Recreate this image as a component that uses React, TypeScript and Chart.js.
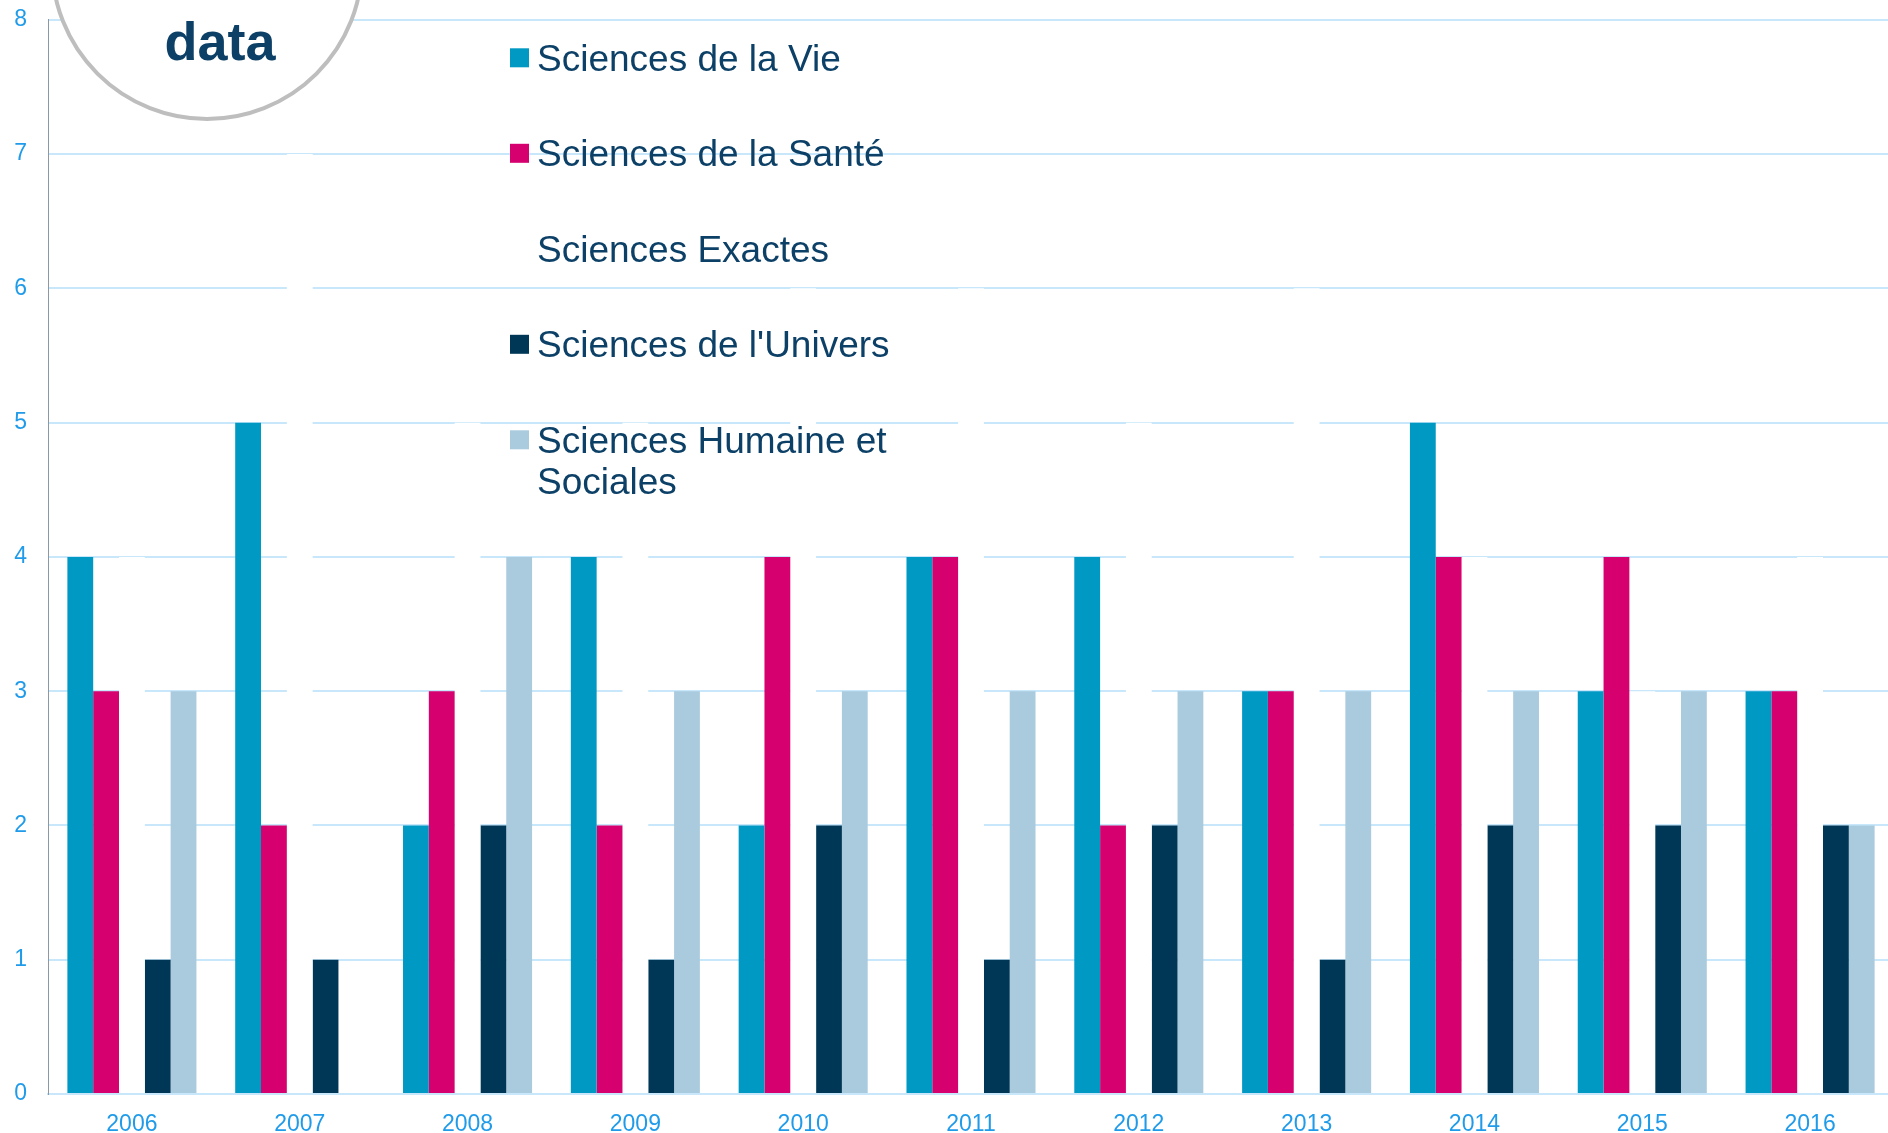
import React, { useEffect, useRef } from "react";
import { Chart, registerables } from "chart.js";

Chart.register(...registerables);

const years = ["2006", "2007", "2008", "2009", "2010", "2011", "2012", "2013", "2014", "2015", "2016"];
const seriesLabels = [
  "Sciences de la Vie",
  "Sciences de la Santé",
  "Sciences Exactes",
  "Sciences de l'Univers",
  "Sciences Humaine et Sociales",
];
const vie = [4, 5, 2, 4, 2, 4, 4, 3, 5, 3, 3];
const sante = [3, 2, 3, 2, 4, 4, 2, 3, 4, 4, 3];
const exactes = [4, 7, 5, 5, 6, 6, 5, 6, 4, 3, 4];
const univers = [1, 1, 2, 1, 2, 1, 2, 1, 2, 2, 2];
const shs = [3, 0, 4, 3, 3, 3, 3, 3, 3, 3, 2];
const seriesColors = ["#0099C4", "#D6006E", "#FFFFFF", "#003756", "#AACBDE"];
const yMin = 0;
const yMax = 8;
const yStep = 1;
const logoText = "data";

const NAVY = "#0C4067";
const TICK = "#1F9BEA";
const GRID = "#C8E7FA";
const FONT = '"Liberation Sans", Arial, Helvetica, sans-serif';
const SHIFT = 15; // canvas is shifted up by this many pixels

function wrapText(ctx: CanvasRenderingContext2D, text: string, maxWidth: number): string[] {
  const words = text.split(" ");
  const lines: string[] = [];
  let cur = "";
  for (const w of words) {
    const test = cur ? cur + " " + w : w;
    if (ctx.measureText(test).width > maxWidth && cur) {
      lines.push(cur);
      cur = w;
    } else {
      cur = test;
    }
  }
  if (cur) lines.push(cur);
  return lines;
}

const legendPlugin = {
  id: "customLegend",
  afterDatasetsDraw(chart: any) {
    const ctx: CanvasRenderingContext2D = chart.ctx;
    ctx.save();
    ctx.font = "37px " + FONT;
    ctx.textBaseline = "alphabetic";
    ctx.textAlign = "left";
    chart.data.datasets.forEach((ds: any, i: number) => {
      const base = SHIFT + 70.7 + i * 95.5;
      ctx.fillStyle = ds.backgroundColor;
      ctx.fillRect(510, base - 22.4, 19, 19);
      ctx.fillStyle = NAVY;
      const lines = wrapText(ctx, ds.label, 370);
      lines.forEach((l, j) => ctx.fillText(l, 537, base + j * 41.6));
    });
    ctx.restore();
  },
};

const logoPlugin = {
  id: "logo",
  afterDraw(chart: any) {
    const ctx: CanvasRenderingContext2D = chart.ctx;
    ctx.save();
    ctx.beginPath();
    ctx.arc(207, SHIFT - 36, 155, 0, Math.PI * 2);
    ctx.fillStyle = "#FFFFFF";
    ctx.fill();
    ctx.lineWidth = 4;
    ctx.strokeStyle = "#BEBEBE";
    ctx.stroke();
    ctx.fillStyle = NAVY;
    ctx.font = "bold 54px " + FONT;
    ctx.textAlign = "center";
    ctx.textBaseline = "alphabetic";
    ctx.fillText(logoText, 220, SHIFT + 60);
    ctx.restore();
  },
};

export default function App() {
  const ref = useRef<HTMLCanvasElement | null>(null);
  useEffect(() => {
    if (!ref.current) return;
    const allSeries = [vie, sante, exactes, univers, shs];
    const chart = new Chart(ref.current, {
      type: "bar",
      data: {
        labels: years,
        datasets: allSeries.map((d, i) => ({
          label: seriesLabels[i],
          data: d,
          backgroundColor: seriesColors[i],
          borderWidth: 0,
          categoryPercentage: 0.769,
          barPercentage: 1,
        })),
      },
      options: {
        animation: false,
        responsive: false,
        maintainAspectRatio: false,
        devicePixelRatio: 1,
        layout: { padding: { top: 4, right: 6, left: 0, bottom: 0 } },
        plugins: {
          legend: { display: false },
          tooltip: { enabled: false },
          title: { display: false },
        },
        scales: {
          x: {
            grid: { display: false, drawTicks: false },
            border: { display: true, color: GRID, width: 2 },
            ticks: { color: TICK, font: { family: FONT, size: 23 }, padding: 17 },
            afterFit(scale: any) {
              scale.height = 39;
            },
          },
          y: {
            min: yMin,
            max: yMax,
            grid: { color: GRID, lineWidth: 2, drawTicks: false },
            border: { display: true, color: "#8C99A4", width: 1 },
            ticks: { stepSize: yStep, color: TICK, font: { family: FONT, size: 23 }, padding: 21 },
            afterFit(scale: any) {
              scale.width = 48;
            },
          },
        },
      },
      plugins: [legendPlugin, logoPlugin],
    });
    return () => chart.destroy();
  }, []);

  return (
    <div
      style={{
        position: "fixed",
        left: 0,
        top: 0,
        width: 1888,
        height: 1133,
        overflow: "hidden",
        background: "#FFFFFF",
      }}
    >
      <canvas
        ref={ref}
        width={1900}
        height={1133 + SHIFT}
        style={{ display: "block", position: "absolute", left: 0, top: -SHIFT }}
      />
    </div>
  );
}
